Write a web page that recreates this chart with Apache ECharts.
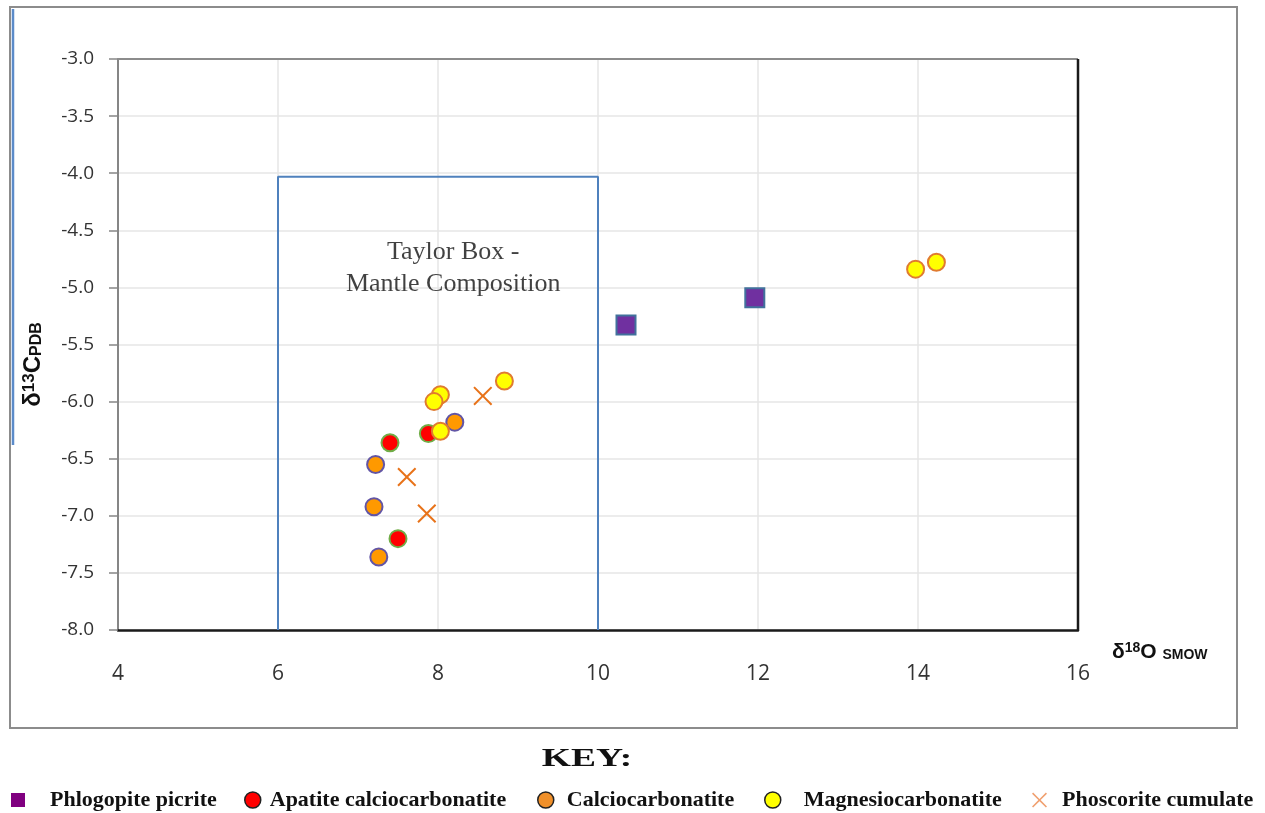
<!DOCTYPE html>
<html>
<head>
<meta charset="utf-8">
<script src="https://cdn.jsdelivr.net/npm/echarts@6/dist/echarts.min.js"></script>
<style>
  html, body { margin: 0; padding: 0; background: #fff; }
  #chart { width: 1265px; height: 813px; }
</style>
</head>
<body>
<div id="chart"></div>
<script>
// axis ticks
const xTicks = [4, 6, 8, 10, 12, 14, 16]
const yTicks = [-8.0, -7.5, -7.0, -6.5, -6.0, -5.5, -5.0, -4.5, -4.0, -3.5, -3.0]

// samples, d18O (x) and d13C (y)
const phlogopiteX = [10.35, 11.96]
const phlogopiteY = [-5.33, -5.09]

const apatiteX = [7.40, 7.88, 7.50]
const apatiteY = [-6.36, -6.28, -7.20]

const calcioX = [8.21, 7.22, 7.20, 7.26]
const calcioY = [-6.18, -6.55, -6.92, -7.36]

const magnesioX = [13.97, 14.23, 8.83, 8.03, 7.95, 8.03]
const magnesioY = [-4.84, -4.78, -5.82, -5.94, -6.00, -6.26]

const phoscoriteX = [8.56, 7.61, 7.86]
const phoscoriteY = [-5.95, -6.66, -6.98]

// Taylor box outline (mantle composition)
const boxX = [6, 6, 10, 10]
const boxY = [-8.0, -4.03, -4.03, -8.0]
const boxLabelPos = [8.19, -4.83]

const pts = (xs, ys) => xs.map((x, i) => [x, ys[i]])

const crossPath = 'path://M0,1.5L1.5,0L10,8.5L18.5,0L20,1.5L11.5,10L20,18.5L18.5,20L10,11.5L1.5,20L0,18.5L8.5,10Z'

const chart = echarts.init(document.getElementById('chart'))

const legendText = { fontFamily: 'Liberation Serif', fontWeight: 'bold', fontSize: 22, color: '#111' }

function legendAt(name, left, gap, extra) {
  return Object.assign({
    data: [name],
    left: left,
    top: 789,
    itemWidth: 16,
    itemHeight: 16,
    padding: 0,
    textStyle: Object.assign({}, legendText, { padding: [0, 0, 0, gap] }),
    selectedMode: false
  }, extra || {})
}

const nameRich = (big, sup, sub) => ({
  d: { fontFamily: 'Liberation Sans', fontWeight: 'bold', fontSize: big, color: '#111' },
  sup: { fontFamily: 'Liberation Sans', fontWeight: 'bold', fontSize: sup, color: '#111', verticalAlign: 'top' },
  sub: { fontFamily: 'Liberation Sans', fontWeight: 'bold', fontSize: sub, color: '#111', verticalAlign: 'bottom' }
})

chart.setOption({
  animation: false,
  backgroundColor: '#fff',
  legend: [
    legendAt('Phlogopite picrite', 11, 20, { itemWidth: 14, itemHeight: 14, itemStyle: { color: '#800080', borderWidth: 0 } }),
    legendAt('Apatite calciocarbonatite', 244, 4, { itemStyle: { borderColor: '#222', borderWidth: 1.5 } }),
    legendAt('Calciocarbonatite', 537, 8, { itemStyle: { color: '#f0902a', borderColor: '#222', borderWidth: 1.5 } }),
    legendAt('Magnesiocarbonatite', 764, 18, { itemStyle: { borderColor: '#222', borderWidth: 1.5 } }),
    legendAt('Phoscorite cumulate', 1032, 10, { itemWidth: 15, itemHeight: 15, itemStyle: { color: '#f0a070' } })
  ],
  graphic: [
    {
      type: 'rect',
      shape: { x: 10, y: 7, width: 1227, height: 721 },
      style: { fill: null, stroke: '#8c8c8c', lineWidth: 2 },
      silent: true
    },
    {
      type: 'line',
      shape: { x1: 13, y1: 9, x2: 13, y2: 445 },
      style: { stroke: '#5b8bc9', lineWidth: 2.5 },
      silent: true
    },
    {
      type: 'text',
      x: 587,
      y: 760,
      scaleX: 1.5,
      silent: true,
      style: {
        text: 'KEY:',
        align: 'center',
        verticalAlign: 'middle',
        fontFamily: 'Liberation Serif',
        fontWeight: 'bold',
        fontSize: 25,
        fill: '#111'
      }
    }
  ],
  grid: { left: 118, top: 59, width: 960, height: 571 },
  xAxis: {
    type: 'value',
    min: xTicks[0],
    max: xTicks[xTicks.length - 1],
    interval: 2,
    axisLine: { show: true, onZero: false, lineStyle: { color: '#1a1a1a', width: 2.5 } },
    axisTick: { show: false },
    axisLabel: { margin: 34, fontSize: 21, fontFamily: 'Open Sans', color: '#333' },
    splitLine: { show: true, lineStyle: { color: '#e6e6e6', width: 1.5 } },
    name: '{d|δ}{sup|18}{d|O }{sub|SMOW}',
    nameLocation: 'end',
    nameGap: 34,
    nameTextStyle: {
      padding: [44, 0, 0, 0],
      rich: nameRich(21, 14, 14)
    }
  },
  yAxis: {
    type: 'value',
    min: yTicks[0],
    max: yTicks[yTicks.length - 1],
    interval: 0.5,
    axisLine: { show: true, onZero: false, lineStyle: { color: '#868686', width: 2 } },
    axisTick: { show: true, inside: false, length: 9, lineStyle: { color: '#868686', width: 1.5 } },
    axisLabel: { margin: 24, fontSize: 19, fontFamily: 'Open Sans', color: '#333', formatter: v => v.toFixed(1) },
    splitLine: { show: true, lineStyle: { color: '#e6e6e6', width: 1.5 } },
    name: '{d|δ}{sup|13}{d|C}{sub|PDB}',
    nameLocation: 'middle',
    nameRotate: 90,
    nameGap: 73,
    nameTextStyle: {
      padding: [0, 40, 0, 0],
      rich: nameRich(24, 17, 16)
    }
  },
  series: [
    {
      name: 'plotTop',
      type: 'line',
      silent: true,
      symbol: 'none',
      data: [[xTicks[0], yTicks[yTicks.length - 1]], [xTicks[xTicks.length - 1], yTicks[yTicks.length - 1]]],
      lineStyle: { color: '#8c8c8c', width: 2 },
      z: 1
    },
    {
      name: 'plotRight',
      type: 'line',
      silent: true,
      symbol: 'none',
      data: [[xTicks[xTicks.length - 1], yTicks[yTicks.length - 1]], [xTicks[xTicks.length - 1], yTicks[0]]],
      lineStyle: { color: '#1a1a1a', width: 2.5 },
      z: 1
    },
    {
      name: 'Taylor Box',
      type: 'line',
      silent: true,
      symbol: 'none',
      data: pts(boxX, boxY),
      lineStyle: { color: '#4f81bd', width: 2 },
      z: 2
    },
    {
      name: 'boxLabel',
      type: 'scatter',
      silent: true,
      symbolSize: 0,
      data: [boxLabelPos],
      label: {
        show: true,
        position: 'inside',
        formatter: 'Taylor Box -\nMantle Composition',
        fontFamily: 'Liberation Serif',
        fontSize: 26,
        lineHeight: 32,
        color: '#111',
        align: 'center'
      },
      z: 3
    },
    {
      name: 'Phlogopite picrite',
      type: 'scatter',
      symbol: 'rect',
      symbolSize: 19,
      data: pts(phlogopiteX, phlogopiteY),
      itemStyle: { color: '#7030a0', borderColor: '#41719c', borderWidth: 2, opacity: 1 },
      z: 5
    },
    {
      name: 'Apatite calciocarbonatite',
      type: 'scatter',
      symbol: 'circle',
      symbolSize: 17,
      data: pts(apatiteX, apatiteY),
      itemStyle: { color: '#ff0000', borderColor: '#70ad47', borderWidth: 2, opacity: 1 },
      z: 5
    },
    {
      name: 'Calciocarbonatite',
      type: 'scatter',
      symbol: 'circle',
      symbolSize: 17,
      data: pts(calcioX, calcioY),
      itemStyle: { color: '#ff9900', borderColor: '#6255a5', borderWidth: 2, opacity: 1 },
      z: 5
    },
    {
      name: 'Magnesiocarbonatite',
      type: 'scatter',
      symbol: 'circle',
      symbolSize: 17,
      data: pts(magnesioX, magnesioY),
      itemStyle: { color: '#ffff00', borderColor: '#e07b30', borderWidth: 2, opacity: 1 },
      z: 6
    },
    {
      name: 'Phoscorite cumulate',
      type: 'scatter',
      symbol: crossPath,
      symbolSize: 19,
      data: pts(phoscoriteX, phoscoriteY),
      itemStyle: { color: '#e8731a', opacity: 1 },
      z: 5
    }
  ]
})
</script>
</body>
</html>
